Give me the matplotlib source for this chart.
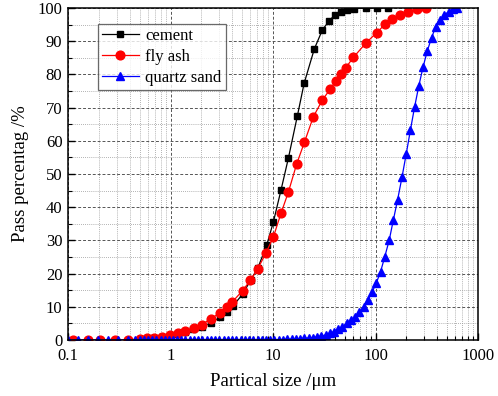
import matplotlib
matplotlib.use("Agg")
import matplotlib.pyplot as plt
from matplotlib.ticker import MultipleLocator, NullFormatter

plt.rcParams['font.family'] = ['Liberation Serif', 'DejaVu Serif']

# particle size (um) and cumulative passing (%)
cement_x = [0.5, 0.59, 0.69, 0.83, 0.99, 1.19, 1.39, 1.67, 2.02, 2.47, 3.04, 3.53,
            4.04, 5.06, 6.06, 7.09, 8.68, 10.07, 11.97, 14.1, 17.3, 20.1, 25.3,
            30.3, 35.4, 40.3, 45.8, 52.4, 62.1, 80.8, 103.5, 132.5]
cement_y = [0.1, 0.3, 0.5, 0.8, 1.2, 1.8, 2.4, 3.2, 3.8, 5.2, 6.8, 8.5,
            10.2, 13.8, 18.1, 21.6, 28.6, 35.5, 45.2, 54.7, 67.6, 77.3, 87.7,
            93.4, 96.2, 98.0, 98.7, 99.4, 99.8, 100, 100, 100]

fly_x = [0.112, 0.157, 0.205, 0.288, 0.385, 0.504, 0.59, 0.69, 0.826, 0.99, 1.19,
         1.385, 1.69, 2.01, 2.48, 3.04, 3.53, 4.01, 5.06, 6.01, 7.09, 8.55, 10.07,
         11.97, 14.1, 17.0, 20.2, 24.7, 30.3, 36.0, 40.9, 45.8, 51.2, 60.7, 80.8,
         102.8, 123.8, 143.9, 173.4, 207.5, 254, 309]
fly_y = [0, 0, 0, 0, 0, 0.3, 0.5, 0.6, 1.0, 1.4, 2.2,
         2.7, 3.7, 4.6, 6.4, 8.2, 9.9, 11.5, 14.9, 18.0, 21.4, 26.3, 31.0,
         38.2, 44.5, 53.0, 59.5, 67.2, 72.3, 75.5, 78.0, 80.1, 82.0, 85.1, 89.5,
         92.6, 95.1, 96.6, 97.9, 98.9, 99.7, 100]

sand_x = [0.1, 0.126, 0.158, 0.198, 0.247, 0.31, 0.388,
          0.45, 0.5, 0.55, 0.6, 0.66, 0.72, 0.8, 0.88, 0.96, 1.06, 1.16, 1.28,
          1.4, 1.55, 1.7, 1.87, 2.05, 2.26, 2.48, 2.73, 3.0, 3.3, 3.63, 4.0,
          4.4, 4.83, 5.3, 5.85, 6.43, 7.07, 7.78, 8.56, 9.4, 10.3,
          11.4, 12.5, 13.8, 15.2, 16.7, 18.3, 20.2, 22.2, 24.4, 26.8, 29.5,
          32.5, 35.7, 39.3, 43.2, 47.5, 52.3, 57.5, 63.3, 69.6, 76.5, 84.2,
          92.6, 102, 112, 123, 136, 149, 164, 181, 199, 219, 240, 264, 291,
          320, 352, 387, 426, 468, 515, 567, 623]
sand_y = [0, 0, 0, 0, 0, 0, 0,
          0, 0, 0, 0, 0, 0, 0, 0, 0, 0, 0, 0,
          0, 0, 0, 0, 0, 0, 0, 0, 0, 0, 0, 0,
          0, 0, 0, 0, 0, 0, 0, 0, 0.05, 0.05,
          0.1, 0.15, 0.2, 0.3, 0.35, 0.4, 0.5, 0.6, 0.75, 0.95, 1.2,
          1.5, 2.0, 2.5, 3.2, 4.0, 5.0, 6.0, 7.0, 8.5, 10.0, 12.0,
          14.4, 17.3, 20.6, 25.1, 30.1, 36.1, 42.2, 49.0, 56.0, 63.3, 70.1, 76.5, 82.3,
          87.1, 91.1, 94.4, 96.4, 97.9, 98.9, 99.6, 100]

fig = plt.figure(figsize=(4.98, 3.96), dpi=100)
ax = fig.add_axes([0.1365, 0.1414, 0.8235, 0.8384])

ax.plot(cement_x, cement_y, '-s', color='black', lw=0.9, ms=5, label='cement')
ax.plot(fly_x, fly_y, '-o', color='red', lw=0.9, ms=6.3, label='fly ash')
ax.plot(sand_x, sand_y, '-^', color='blue', lw=0.9, ms=6, label='quartz sand')

ax.set_xscale('log')
ax.set_xlim(0.1, 1000)
ax.set_ylim(0, 100)
ax.yaxis.set_major_locator(MultipleLocator(10))
ax.yaxis.set_minor_locator(MultipleLocator(5))
ax.set_xticks([0.1, 1, 10, 100, 1000])
ax.set_xticklabels(['0.1', '1', '10', '100', '1000'])
ax.xaxis.set_minor_formatter(NullFormatter())

ax.grid(which='major', color='#555555', linestyle=(0, (3, 2)), linewidth=0.7)
ax.grid(which='minor', color='#999999', linestyle=(0, (1, 1.5)), linewidth=0.6)
ax.set_axisbelow(True)

ax.tick_params(which='major', direction='in', length=5, width=1, labelsize=12)
ax.tick_params(axis='x', which='major', pad=6)
ax.tick_params(axis='y', which='major', pad=4)
ax.tick_params(which='minor', direction='in', length=3, width=0.8)
for s in ax.spines.values():
    s.set_linewidth(1.1)

ax.set_xlabel('Partical size /μm', fontsize=13.5, labelpad=6)
ax.set_ylabel('Pass percentag /%', fontsize=13.5, labelpad=6)

leg = ax.legend(loc='upper left', bbox_to_anchor=(0.073, 0.952), fontsize=12,
                frameon=True, fancybox=False, edgecolor='#444444',
                handlelength=2.2, borderpad=0.25, labelspacing=0.3,
                handletextpad=0.4, borderaxespad=0)
leg.get_frame().set_linewidth(0.9)

fig.savefig('out.png', dpi=100)
